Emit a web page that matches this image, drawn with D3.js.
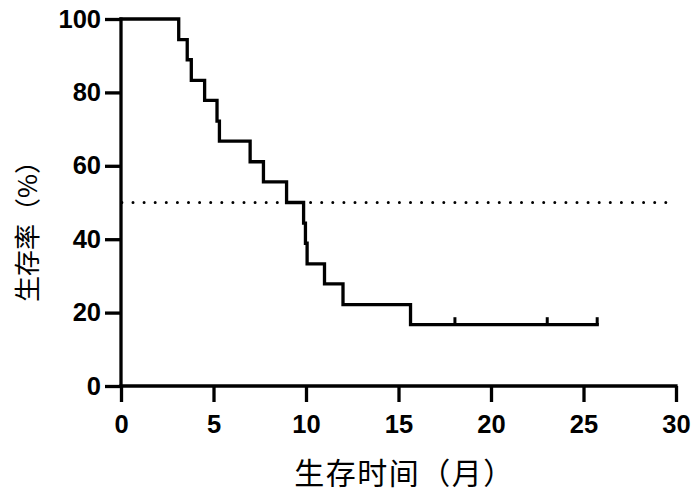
<!DOCTYPE html>
<html>
<head>
<meta charset="utf-8">
<script src="https://cdn.jsdelivr.net/npm/d3@7/dist/d3.min.js"></script>
<style>
  html, body { margin: 0; padding: 0; background: #fff; }
  svg { display: block; }
</style>
</head>
<body>
<svg id="chart" width="700" height="494"></svg>
<script>
// ---- Data ----
const stepTimes = [0, 3.12, 3.58, 3.8, 4.52, 5.19, 5.32, 6.98, 7.7, 8.95, 9.87, 9.97, 10.06, 11.0, 12.0, 15.65, 25.74];
const survival  = [100, 94.4, 88.9, 83.3, 77.8, 72.2, 66.7, 61.1, 55.6, 50.0, 44.4, 38.9, 33.3, 27.8, 22.2, 16.7, 16.7];
const censorTimes  = [18.05, 23.04, 25.74];
const censorValues = [16.7, 16.7, 16.7];
const medianLevel = 50;
const xTicks = [0, 5, 10, 15, 20, 25, 30];
const yTicks = [0, 20, 40, 60, 80, 100];
const xLabel = "生存时间（月）";
const yLabel = "生存率（%）";

// ---- Layout ----
const svg = d3.select("#chart");
const x = d3.scaleLinear().domain([0, 30]).range([121, 676]);
const y = d3.scaleLinear().domain([0, 100]).range([386, 19]);

const tickFont = "'Liberation Sans', Arial, sans-serif";
const cjkFont = "'Noto Sans CJK SC', sans-serif";

// Reference line at 50%
svg.append("line")
  .attr("x1", x(0)).attr("x2", x(30))
  .attr("y1", y(medianLevel)).attr("y2", y(medianLevel))
  .attr("stroke", "#000")
  .attr("stroke-width", 3)
  .attr("stroke-linecap", "round")
  .attr("stroke-dasharray", "0 11.1")
  .attr("stroke-dashoffset", -12);

// Axes
const xAxis = svg.append("g")
  .attr("transform", `translate(0,${y(0)})`)
  .call(d3.axisBottom(x).tickValues(xTicks).tickSize(16).tickPadding(12).tickSizeOuter(0));
const yAxis = svg.append("g")
  .attr("transform", `translate(${x(0)},0)`)
  .call(d3.axisLeft(y).tickValues(yTicks).tickSize(16).tickPadding(4).tickSizeOuter(0));

[xAxis, yAxis].forEach(g => {
  g.select(".domain").attr("stroke", "#000").attr("stroke-width", 3.3);
  g.selectAll(".tick line").attr("stroke", "#000").attr("stroke-width", 3.3);
  g.selectAll(".tick text")
    .attr("fill", "#000")
    .style("font-family", tickFont)
    .style("font-weight", "bold")
    .style("font-size", "25.5px");
});
xAxis.selectAll(".tick text").attr("dy", "0.74em");
xAxis.select(".domain").attr("d", `M${x(0) - 1.6},0H${x(30) + 1.6}`);
yAxis.select(".domain").attr("d", `M0,${y(0) + 1.6}V${y(100) - 1.6}`);

// KM step curve
const pts = stepTimes.map((t, i) => [t, survival[i]]);
const line = d3.line()
  .x(d => x(d[0]))
  .y(d => y(d[1]))
  .curve(d3.curveStepAfter);
svg.append("path")
  .datum(pts)
  .attr("d", line)
  .attr("fill", "none")
  .attr("stroke", "#000")
  .attr("stroke-width", 3.3)
  .attr("stroke-linejoin", "miter")
  .attr("stroke-linecap", "square");

// Censor marks
svg.append("g").selectAll("line")
  .data(censorTimes.map((t, i) => [t, censorValues[i]]))
  .join("line")
  .attr("x1", d => x(d[0])).attr("x2", d => x(d[0]))
  .attr("y1", d => y(d[1])).attr("y2", d => y(d[1]) - 7.5)
  .attr("stroke", "#000")
  .attr("stroke-width", 3);

// Axis titles
svg.append("text")
  .attr("x", x(15) + 6)
  .attr("y", 484)
  .attr("text-anchor", "middle")
  .style("font-family", cjkFont)
  .style("font-size", "30px")
  .style("letter-spacing", "1.5px")
  .attr("fill", "#000")
  .text(xLabel);

svg.append("text")
  .attr("transform", `translate(37,${225}) rotate(-90)`)
  .attr("text-anchor", "middle")
  .style("font-family", cjkFont)
  .style("font-size", "26px")
  .attr("fill", "#000")
  .text(yLabel);
</script>
</body>
</html>
